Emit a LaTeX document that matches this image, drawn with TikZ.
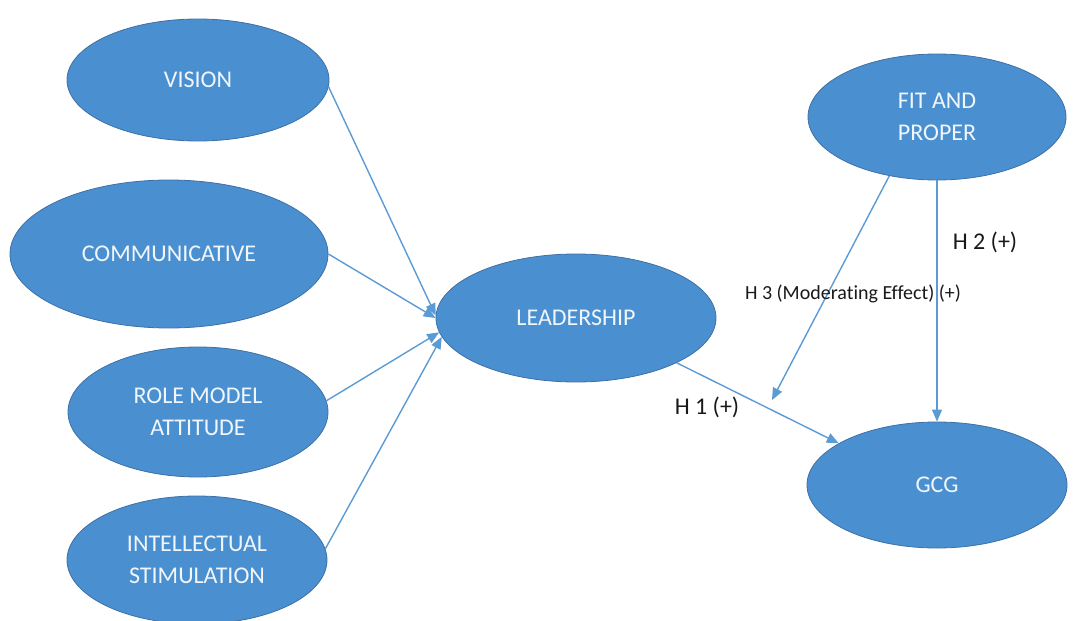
\documentclass[tikz,border=0pt]{standalone}
\usepackage{fontspec}
\setmainfont[Ligatures=NoCommon]{Carlito}
\usepackage{tikz}
\usetikzlibrary{shapes.geometric, arrows.meta}
\definecolor{ovalblue}{RGB}{74,144,208}
\definecolor{ovalrim}{RGB}{62,112,165}
\definecolor{linkblue}{RGB}{91,155,213}
\tikzset{
    construct/.style={ellipse, draw=ovalrim, fill=ovalblue, line width=0.4pt, inner sep=0pt, align=center,
        text=white!92!ovalblue, font=\fontsize{12}{16}\selectfont},
    link/.style={draw=linkblue, line width=0.7pt, -{Triangle[length=6pt, width=5pt]}},
    hyp/.style={text=black!90, font=\fontsize{12}{14}\selectfont},
}
\begin{document}
\begin{tikzpicture}[x=0.5pt, y=-0.5pt]
\useasboundingbox (0,0) rectangle (1078,621);
\node[construct, minimum width=131pt, minimum height=61pt] (vision) at (198,80) {VISION};
\node[construct, minimum width=159pt, minimum height=74pt] (comm) at (169,254) {COMMUNICATIVE};
\node[construct, minimum width=130pt, minimum height=65pt] (role) at (198,412) {ROLE MODEL\\ATTITUDE};
\node[construct, minimum width=130pt, minimum height=64pt] (intel) at (197,560) {INTELLECTUAL\\STIMULATION};
\node[construct, minimum width=140pt, minimum height=64pt] (lead) at (576,318) {LEADERSHIP};
\node[construct, minimum width=129pt, minimum height=63pt] (fit) at (937,117) {FIT AND\\PROPER};
\node[construct, minimum width=130pt, minimum height=63pt] (gcg) at (937,485) {GCG};

\draw[link] (vision.-3) -- (lead.179);
\draw[link] (comm.east) -- (lead.180);
\draw[link] (role.5) -- (lead.186);
\draw[link] (intel.5) -- (lead.188);
\draw[link] (lead.-24) -- (gcg.157);
\draw[link] (fit.south) -- (gcg.north);
\coordinate (h3end) at (772,400);
\draw[link] (fit.231) -- (h3end);

\node[hyp] (h1) at (707,407) {H 1 (+)};
\node[hyp] (h2) at (985,242) {H 2 (+)};
\node[hyp, font=\fontsize{10}{12}\selectfont] (h3) at (853,294) {H 3 (Moderating Effect) (+)};
\end{tikzpicture}
\end{document}
